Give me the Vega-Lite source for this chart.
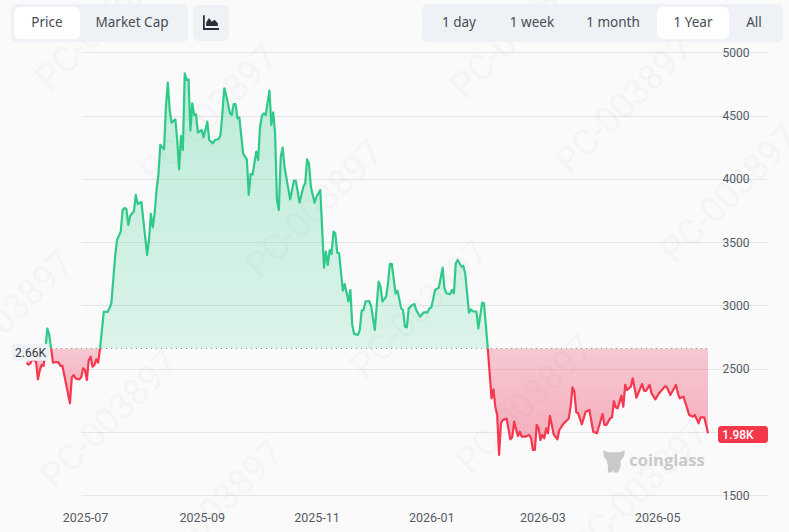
{
  "$schema": "https://vega.github.io/schema/vega-lite/v6.json",
  "width": 789,
  "height": 532,
  "autosize": "none",
  "padding": 0,
  "background": "#fafafa",
  "config": {"view": {"stroke": null}, "font": "Roboto"},
  "datasets": {
    "prices": [
      {"date":"2025-05-31","price":2548,"side":"down","run":1},{"date":"2025-06-01","price":2532,"side":"down","run":1},{"date":"2025-06-02","price":2543,"side":"down","run":1},{"date":"2025-06-03","price":2574,"side":"down","run":1},{"date":"2025-06-05","price":2556,"side":"down","run":1},{"date":"2025-06-06","price":2416,"side":"down","run":1},{"date":"2025-06-07","price":2490,"side":"down","run":1},{"date":"2025-06-08","price":2530,"side":"down","run":1},{"date":"2025-06-09","price":2522,"side":"down","run":1},{"date":"2025-06-10","price":2660,"side":"down","run":1},
      {"date":"2025-06-10","price":2660,"side":"up","run":2},{"date":"2025-06-11","price":2817,"side":"up","run":2},{"date":"2025-06-12","price":2770,"side":"up","run":2},{"date":"2025-06-13","price":2660,"side":"up","run":2},
      {"date":"2025-06-13","price":2660,"side":"down","run":3},{"date":"2025-06-14","price":2548,"side":"down","run":3},{"date":"2025-06-16","price":2553,"side":"down","run":3},{"date":"2025-06-17","price":2548,"side":"down","run":3},{"date":"2025-06-18","price":2522,"side":"down","run":3},{"date":"2025-06-19","price":2522,"side":"down","run":3},{"date":"2025-06-20","price":2450,"side":"down","run":3},{"date":"2025-06-23","price":2227,"side":"down","run":3},{"date":"2025-06-24","price":2432,"side":"down","run":3},{"date":"2025-06-25","price":2450,"side":"down","run":3},{"date":"2025-06-26","price":2424,"side":"down","run":3},{"date":"2025-06-28","price":2416,"side":"down","run":3},{"date":"2025-06-29","price":2432,"side":"down","run":3},{"date":"2025-06-30","price":2503,"side":"down","run":3},{"date":"2025-07-01","price":2490,"side":"down","run":3},{"date":"2025-07-02","price":2411,"side":"down","run":3},{"date":"2025-07-03","price":2569,"side":"down","run":3},{"date":"2025-07-04","price":2595,"side":"down","run":3},{"date":"2025-07-05","price":2516,"side":"down","run":3},{"date":"2025-07-06","price":2530,"side":"down","run":3},{"date":"2025-07-07","price":2574,"side":"down","run":3},{"date":"2025-07-08","price":2548,"side":"down","run":3},{"date":"2025-07-09","price":2660,"side":"down","run":3},
      {"date":"2025-07-09","price":2660,"side":"up","run":4},{"date":"2025-07-11","price":2951,"side":"up","run":4},{"date":"2025-07-13","price":2948,"side":"up","run":4},{"date":"2025-07-14","price":2977,"side":"up","run":4},{"date":"2025-07-15","price":3017,"side":"up","run":4},{"date":"2025-07-16","price":3200,"side":"up","run":4},{"date":"2025-07-17","price":3386,"side":"up","run":4},{"date":"2025-07-18","price":3517,"side":"up","run":4},{"date":"2025-07-20","price":3583,"side":"up","run":4},{"date":"2025-07-21","price":3754,"side":"up","run":4},{"date":"2025-07-22","price":3770,"side":"up","run":4},{"date":"2025-07-23","price":3760,"side":"up","run":4},{"date":"2025-07-24","price":3636,"side":"up","run":4},{"date":"2025-07-25","price":3707,"side":"up","run":4},{"date":"2025-07-27","price":3744,"side":"up","run":4},{"date":"2025-07-28","price":3873,"side":"up","run":4},{"date":"2025-07-29","price":3802,"side":"up","run":4},{"date":"2025-07-31","price":3817,"side":"up","run":4},
      {"date":"2025-08-01","price":3675,"side":"up","run":4},{"date":"2025-08-03","price":3399,"side":"up","run":4},{"date":"2025-08-04","price":3517,"side":"up","run":4},{"date":"2025-08-05","price":3723,"side":"up","run":4},{"date":"2025-08-06","price":3617,"side":"up","run":4},{"date":"2025-08-07","price":3728,"side":"up","run":4},{"date":"2025-08-08","price":3912,"side":"up","run":4},{"date":"2025-08-09","price":4031,"side":"up","run":4},{"date":"2025-08-10","price":4268,"side":"up","run":4},{"date":"2025-08-12","price":4233,"side":"up","run":4},{"date":"2025-08-13","price":4570,"side":"up","run":4},{"date":"2025-08-14","price":4760,"side":"up","run":4},{"date":"2025-08-15","price":4544,"side":"up","run":4},{"date":"2025-08-16","price":4444,"side":"up","run":4},{"date":"2025-08-18","price":4470,"side":"up","run":4},{"date":"2025-08-19","price":4307,"side":"up","run":4},{"date":"2025-08-20","price":4075,"side":"up","run":4},{"date":"2025-08-21","price":4339,"side":"up","run":4},{"date":"2025-08-22","price":4228,"side":"up","run":4},{"date":"2025-08-23","price":4834,"side":"up","run":4},{"date":"2025-08-24","price":4781,"side":"up","run":4},{"date":"2025-08-25","price":4786,"side":"up","run":4},{"date":"2025-08-26","price":4381,"side":"up","run":4},{"date":"2025-08-27","price":4597,"side":"up","run":4},{"date":"2025-08-28","price":4505,"side":"up","run":4},{"date":"2025-08-29","price":4510,"side":"up","run":4},{"date":"2025-08-30","price":4365,"side":"up","run":4},
      {"date":"2025-09-01","price":4386,"side":"up","run":4},{"date":"2025-09-02","price":4328,"side":"up","run":4},{"date":"2025-09-04","price":4452,"side":"up","run":4},{"date":"2025-09-05","price":4307,"side":"up","run":4},{"date":"2025-09-07","price":4281,"side":"up","run":4},{"date":"2025-09-08","price":4307,"side":"up","run":4},{"date":"2025-09-10","price":4315,"side":"up","run":4},{"date":"2025-09-11","price":4347,"side":"up","run":4},{"date":"2025-09-12","price":4518,"side":"up","run":4},{"date":"2025-09-13","price":4715,"side":"up","run":4},{"date":"2025-09-14","price":4663,"side":"up","run":4},{"date":"2025-09-16","price":4518,"side":"up","run":4},{"date":"2025-09-17","price":4505,"side":"up","run":4},{"date":"2025-09-18","price":4591,"side":"up","run":4},{"date":"2025-09-19","price":4591,"side":"up","run":4},{"date":"2025-09-20","price":4478,"side":"up","run":4},{"date":"2025-09-21","price":4486,"side":"up","run":4},{"date":"2025-09-23","price":4202,"side":"up","run":4},{"date":"2025-09-24","price":4176,"side":"up","run":4},{"date":"2025-09-25","price":4154,"side":"up","run":4},{"date":"2025-09-26","price":3873,"side":"up","run":4},{"date":"2025-09-27","price":4039,"side":"up","run":4},{"date":"2025-09-28","price":4033,"side":"up","run":4},{"date":"2025-09-30","price":4215,"side":"up","run":4},
      {"date":"2025-10-01","price":4149,"side":"up","run":4},{"date":"2025-10-02","price":4412,"side":"up","run":4},{"date":"2025-10-03","price":4499,"side":"up","run":4},{"date":"2025-10-04","price":4518,"side":"up","run":4},{"date":"2025-10-05","price":4505,"side":"up","run":4},{"date":"2025-10-07","price":4697,"side":"up","run":4},{"date":"2025-10-08","price":4426,"side":"up","run":4},{"date":"2025-10-09","price":4526,"side":"up","run":4},{"date":"2025-10-10","price":4360,"side":"up","run":4},{"date":"2025-10-11","price":3833,"side":"up","run":4},{"date":"2025-10-12","price":3754,"side":"up","run":4},{"date":"2025-10-13","price":4175,"side":"up","run":4},{"date":"2025-10-14","price":4247,"side":"up","run":4},{"date":"2025-10-15","price":4096,"side":"up","run":4},{"date":"2025-10-18","price":3838,"side":"up","run":4},{"date":"2025-10-20","price":3986,"side":"up","run":4},{"date":"2025-10-21","price":3986,"side":"up","run":4},{"date":"2025-10-23","price":3812,"side":"up","run":4},{"date":"2025-10-25","price":3938,"side":"up","run":4},{"date":"2025-10-26","price":3965,"side":"up","run":4},{"date":"2025-10-27","price":4154,"side":"up","run":4},{"date":"2025-10-28","price":4123,"side":"up","run":4},{"date":"2025-10-29","price":3938,"side":"up","run":4},{"date":"2025-10-31","price":3812,"side":"up","run":4},
      {"date":"2025-11-01","price":3859,"side":"up","run":4},{"date":"2025-11-03","price":3912,"side":"up","run":4},{"date":"2025-11-05","price":3299,"side":"up","run":4},{"date":"2025-11-06","price":3425,"side":"up","run":4},{"date":"2025-11-07","price":3320,"side":"up","run":4},{"date":"2025-11-08","price":3438,"side":"up","run":4},{"date":"2025-11-09","price":3406,"side":"up","run":4},{"date":"2025-11-10","price":3583,"side":"up","run":4},{"date":"2025-11-11","price":3570,"side":"up","run":4},{"date":"2025-11-12","price":3417,"side":"up","run":4},{"date":"2025-11-13","price":3412,"side":"up","run":4},{"date":"2025-11-15","price":3117,"side":"up","run":4},{"date":"2025-11-16","price":3170,"side":"up","run":4},{"date":"2025-11-18","price":3030,"side":"up","run":4},{"date":"2025-11-19","price":3122,"side":"up","run":4},{"date":"2025-11-20","price":2846,"side":"up","run":4},{"date":"2025-11-21","price":2775,"side":"up","run":4},{"date":"2025-11-23","price":2767,"side":"up","run":4},{"date":"2025-11-24","price":2806,"side":"up","run":4},{"date":"2025-11-25","price":2959,"side":"up","run":4},{"date":"2025-11-26","price":2964,"side":"up","run":4},{"date":"2025-11-27","price":3030,"side":"up","run":4},{"date":"2025-11-29","price":3035,"side":"up","run":4},{"date":"2025-11-30","price":2996,"side":"up","run":4},
      {"date":"2025-12-02","price":2806,"side":"up","run":4},{"date":"2025-12-04","price":3188,"side":"up","run":4},{"date":"2025-12-05","price":3148,"side":"up","run":4},{"date":"2025-12-06","price":3030,"side":"up","run":4},{"date":"2025-12-08","price":3070,"side":"up","run":4},{"date":"2025-12-09","price":3175,"side":"up","run":4},{"date":"2025-12-10","price":3328,"side":"up","run":4},{"date":"2025-12-11","price":3328,"side":"up","run":4},{"date":"2025-12-13","price":3096,"side":"up","run":4},{"date":"2025-12-14","price":3117,"side":"up","run":4},{"date":"2025-12-16","price":2977,"side":"up","run":4},{"date":"2025-12-17","price":2964,"side":"up","run":4},{"date":"2025-12-18","price":2832,"side":"up","run":4},{"date":"2025-12-19","price":2827,"side":"up","run":4},{"date":"2025-12-20","price":2977,"side":"up","run":4},{"date":"2025-12-22","price":3004,"side":"up","run":4},{"date":"2025-12-23","price":3012,"side":"up","run":4},{"date":"2025-12-24","price":2964,"side":"up","run":4},{"date":"2025-12-26","price":2911,"side":"up","run":4},{"date":"2025-12-28","price":2946,"side":"up","run":4},{"date":"2025-12-30","price":2946,"side":"up","run":4},{"date":"2025-12-31","price":2977,"side":"up","run":4},
      {"date":"2026-01-01","price":2983,"side":"up","run":4},{"date":"2026-01-03","price":3122,"side":"up","run":4},{"date":"2026-01-05","price":3141,"side":"up","run":4},{"date":"2026-01-07","price":3299,"side":"up","run":4},{"date":"2026-01-08","price":3135,"side":"up","run":4},{"date":"2026-01-09","price":3096,"side":"up","run":4},{"date":"2026-01-11","price":3088,"side":"up","run":4},{"date":"2026-01-12","price":3122,"side":"up","run":4},{"date":"2026-01-13","price":3096,"side":"up","run":4},{"date":"2026-01-14","price":3333,"side":"up","run":4},{"date":"2026-01-15","price":3359,"side":"up","run":4},{"date":"2026-01-17","price":3306,"side":"up","run":4},{"date":"2026-01-18","price":3312,"side":"up","run":4},{"date":"2026-01-19","price":3254,"side":"up","run":4},{"date":"2026-01-21","price":2943,"side":"up","run":4},{"date":"2026-01-22","price":2969,"side":"up","run":4},{"date":"2026-01-23","price":2954,"side":"up","run":4},{"date":"2026-01-25","price":2951,"side":"up","run":4},{"date":"2026-01-26","price":2819,"side":"up","run":4},{"date":"2026-01-28","price":3022,"side":"up","run":4},{"date":"2026-01-29","price":3017,"side":"up","run":4},{"date":"2026-01-31","price":2660,"side":"up","run":4},
      {"date":"2026-01-31","price":2660,"side":"down","run":5},{"date":"2026-02-01","price":2464,"side":"down","run":5},{"date":"2026-02-02","price":2266,"side":"down","run":5},{"date":"2026-02-03","price":2337,"side":"down","run":5},{"date":"2026-02-04","price":2200,"side":"down","run":5},{"date":"2026-02-05","price":2135,"side":"down","run":5},{"date":"2026-02-06","price":1819,"side":"down","run":5},{"date":"2026-02-07","price":2069,"side":"down","run":5},{"date":"2026-02-08","price":2095,"side":"down","run":5},{"date":"2026-02-10","price":2106,"side":"down","run":5},{"date":"2026-02-12","price":1942,"side":"down","run":5},{"date":"2026-02-13","price":1958,"side":"down","run":5},{"date":"2026-02-14","price":2082,"side":"down","run":5},{"date":"2026-02-16","price":1969,"side":"down","run":5},{"date":"2026-02-17","price":2003,"side":"down","run":5},{"date":"2026-02-18","price":1963,"side":"down","run":5},{"date":"2026-02-20","price":1963,"side":"down","run":5},{"date":"2026-02-22","price":1977,"side":"down","run":5},{"date":"2026-02-23","price":1950,"side":"down","run":5},{"date":"2026-02-24","price":1858,"side":"down","run":5},{"date":"2026-02-25","price":1858,"side":"down","run":5},{"date":"2026-02-26","price":2056,"side":"down","run":5},{"date":"2026-02-27","price":2029,"side":"down","run":5},{"date":"2026-02-28","price":1937,"side":"down","run":5},
      {"date":"2026-03-01","price":1977,"side":"down","run":5},{"date":"2026-03-02","price":1950,"side":"down","run":5},{"date":"2026-03-03","price":2029,"side":"down","run":5},{"date":"2026-03-04","price":1990,"side":"down","run":5},{"date":"2026-03-05","price":2127,"side":"down","run":5},{"date":"2026-03-06","price":2056,"side":"down","run":5},{"date":"2026-03-07","price":1982,"side":"down","run":5},{"date":"2026-03-09","price":1942,"side":"down","run":5},{"date":"2026-03-10","price":2016,"side":"down","run":5},{"date":"2026-03-12","price":2061,"side":"down","run":5},{"date":"2026-03-15","price":2106,"side":"down","run":5},{"date":"2026-03-16","price":2200,"side":"down","run":5},{"date":"2026-03-17","price":2353,"side":"down","run":5},{"date":"2026-03-18","price":2319,"side":"down","run":5},{"date":"2026-03-19","price":2156,"side":"down","run":5},{"date":"2026-03-20","price":2148,"side":"down","run":5},{"date":"2026-03-22","price":2061,"side":"down","run":5},{"date":"2026-03-24","price":2161,"side":"down","run":5},{"date":"2026-03-26","price":2174,"side":"down","run":5},{"date":"2026-03-28","price":2003,"side":"down","run":5},{"date":"2026-03-30","price":1990,"side":"down","run":5},
      {"date":"2026-04-02","price":2142,"side":"down","run":5},{"date":"2026-04-03","price":2056,"side":"down","run":5},{"date":"2026-04-04","price":2056,"side":"down","run":5},{"date":"2026-04-06","price":2108,"side":"down","run":5},{"date":"2026-04-07","price":2116,"side":"down","run":5},{"date":"2026-04-08","price":2245,"side":"down","run":5},{"date":"2026-04-09","price":2195,"side":"down","run":5},{"date":"2026-04-10","price":2187,"side":"down","run":5},{"date":"2026-04-12","price":2287,"side":"down","run":5},{"date":"2026-04-13","price":2200,"side":"down","run":5},{"date":"2026-04-14","price":2372,"side":"down","run":5},{"date":"2026-04-15","price":2332,"side":"down","run":5},{"date":"2026-04-17","price":2358,"side":"down","run":5},{"date":"2026-04-18","price":2424,"side":"down","run":5},{"date":"2026-04-20","price":2271,"side":"down","run":5},{"date":"2026-04-22","price":2345,"side":"down","run":5},{"date":"2026-04-23","price":2379,"side":"down","run":5},{"date":"2026-04-24","price":2327,"side":"down","run":5},{"date":"2026-04-25","price":2324,"side":"down","run":5},{"date":"2026-04-27","price":2372,"side":"down","run":5},{"date":"2026-04-28","price":2306,"side":"down","run":5},{"date":"2026-04-30","price":2258,"side":"down","run":5},
      {"date":"2026-05-02","price":2306,"side":"down","run":5},{"date":"2026-05-05","price":2358,"side":"down","run":5},{"date":"2026-05-06","price":2358,"side":"down","run":5},{"date":"2026-05-08","price":2293,"side":"down","run":5},{"date":"2026-05-11","price":2372,"side":"down","run":5},{"date":"2026-05-12","price":2306,"side":"down","run":5},{"date":"2026-05-13","price":2266,"side":"down","run":5},{"date":"2026-05-15","price":2279,"side":"down","run":5},{"date":"2026-05-18","price":2135,"side":"down","run":5},{"date":"2026-05-20","price":2121,"side":"down","run":5},{"date":"2026-05-21","price":2135,"side":"down","run":5},{"date":"2026-05-23","price":2069,"side":"down","run":5},{"date":"2026-05-24","price":2116,"side":"down","run":5},{"date":"2026-05-26","price":2116,"side":"down","run":5},{"date":"2026-05-27","price":2056,"side":"down","run":5},{"date":"2026-05-28","price":1990,"side":"down","run":5}
    ],
    "baseline": [{"start":"2025-05-28","end":"2026-05-28","price":2660}],
    "tabs": [
      {"name":"price panel","kind":"panel","from":0,"to":4,"top":0,"bottom":6},
      {"name":"price active","kind":"active","from":1,"to":2,"top":2,"bottom":4},
      {"name":"icon button","kind":"panel","from":5,"to":6,"top":1,"bottom":5},
      {"name":"range panel","kind":"panel","from":7,"to":14,"top":0,"bottom":6},
      {"name":"range active","kind":"active","from":11,"to":12,"top":2,"bottom":4}
    ],
    "tabLabels": [
      {"label":"Price","slot":1.5,"level":3},
      {"label":"Market Cap","slot":2.5,"level":3},
      {"label":"1 day","slot":8.5,"level":3},
      {"label":"1 week","slot":9.5,"level":3},
      {"label":"1 month","slot":10.5,"level":3},
      {"label":"1 Year","slot":11.5,"level":3},
      {"label":"All","slot":12.5,"level":3}
    ],
    "tabIcon": [{"slot":5.5,"level":3}],
    "tags": [
      {"label":"2.66K","price":2630,"from":0,"to":1,"mid":0.5,"kind":"base"},
      {"label":"1.98K","price":1980,"from":2,"to":3,"mid":2.4,"kind":"last"}
    ],
    "logo": [{"label":"coinglass","price":1770,"slot":5,"iconSlot":4}],
    "watermarks": [
      {"text":"PC-003897","col":1.05,"row":0.22},{"text":"PC-003897","col":2.1,"row":1.15},{"text":"PC-003897","col":0.05,"row":3.2},
      {"text":"PC-003897","col":3.15,"row":2.1},{"text":"PC-003897","col":1.1,"row":4.2},{"text":"PC-003897","col":4.2,"row":3.1},
      {"text":"PC-003897","col":2.15,"row":5.1},{"text":"PC-003897","col":5.2,"row":0.3},{"text":"PC-003897","col":6.25,"row":1.05},
      {"text":"PC-003897","col":7.3,"row":1.95},{"text":"PC-003897","col":5.25,"row":4.05},{"text":"PC-003897","col":6.4,"row":4.9}
    ]
  },
  "layer": [
    {
      "data": {"name": "watermarks"},
      "mark": {"type": "text", "text": "PC-003897", "angle": -45, "fontSize": 36, "font": "Roboto", "color": "#777777", "opacity": 0.035},
      "encoding": {
        "x": {"field": "col", "type": "quantitative", "axis": null, "scale": {"domain": [0, 8], "range": [0, 800]}},
        "y": {"field": "row", "type": "quantitative", "axis": null, "scale": {"domain": [0, 6], "range": [0, 600]}}
      }
    },
    {
      "encoding": {
        "x": {
          "field": "date",
          "type": "temporal",
          "scale": {
            "type": "utc",
            "domain": [{"year": 2025, "month": 5, "date": 28, "utc": true}, {"year": 2026, "month": 5, "date": 28, "utc": true}],
            "range": [21, 708]
          },
          "axis": {
            "title": null,
            "grid": false,
            "domain": false,
            "ticks": false,
            "format": "%Y-%m",
            "offset": -36,
            "labelPadding": 15,
            "labelFontSize": 12.5,
            "labelColor": "#555b66",
            "labelFont": "Roboto",
            "values": [
              {"year": 2025, "month": 7, "date": 1, "utc": true},
              {"year": 2025, "month": 9, "date": 1, "utc": true},
              {"year": 2025, "month": 11, "date": 1, "utc": true},
              {"year": 2026, "month": 1, "date": 1, "utc": true},
              {"year": 2026, "month": 3, "date": 1, "utc": true},
              {"year": 2026, "month": 5, "date": 1, "utc": true}
            ]
          }
        },
        "y": {
          "field": "price",
          "type": "quantitative",
          "scale": {"domain": [1500, 5000], "range": [495.3, 52.3], "zero": false, "nice": false},
          "axis": {
            "title": null,
            "orient": "right",
            "domain": false,
            "ticks": false,
            "grid": true,
            "gridColor": "#e6e6e6",
            "gridWidth": 1,
            "values": [1500, 2000, 2500, 3000, 3500, 4000, 4500, 5000],
            "format": "d",
            "offset": -81,
            "labelPadding": 14,
            "labelFontSize": 12,
            "labelColor": "#555b66",
            "labelFont": "Roboto"
          }
        }
      },
      "layer": [
        {
          "data": {"name": "prices"},
          "transform": [{"filter": "datum.side === 'up'"}],
          "mark": {
            "type": "area",
            "color": {
              "gradient": "linear", "x1": 0, "y1": 0, "x2": 0, "y2": 1,
              "stops": [
                {"offset": 0, "color": "rgba(46,201,137,0.30)"},
                {"offset": 1, "color": "rgba(46,201,137,0.15)"}
              ]
            }
          },
          "encoding": {"y2": {"datum": 2660}, "detail": {"field": "run"}}
        },
        {
          "data": {"name": "prices"},
          "transform": [{"filter": "datum.side === 'down'"}],
          "mark": {
            "type": "area",
            "color": {
              "gradient": "linear", "x1": 0, "y1": 0, "x2": 0, "y2": 1,
              "stops": [
                {"offset": 0, "color": "rgba(235,60,95,0.26)"},
                {"offset": 1, "color": "rgba(235,60,95,0.42)"}
              ]
            }
          },
          "encoding": {"y2": {"datum": 2660}, "detail": {"field": "run"}}
        },
        {
          "data": {"name": "baseline"},
          "mark": {"type": "rule", "color": "#8a8f96", "strokeWidth": 1, "strokeDash": [1, 4]},
          "encoding": {
            "x": {"field": "start", "type": "temporal"},
            "x2": {"field": "end"},
            "y": {"field": "price", "type": "quantitative"}
          }
        },
        {
          "data": {"name": "prices"},
          "mark": {"type": "line", "strokeWidth": 2.2, "strokeJoin": "round"},
          "encoding": {
            "color": {"field": "side", "type": "nominal", "legend": null, "scale": {"domain": ["up", "down"], "range": ["#2fc98a", "#f5384f"]}},
            "detail": {"field": "run"}
          }
        }
      ]
    },
    {
      "encoding": {
        "x": {
          "field": "from",
          "type": "quantitative",
          "axis": null,
          "scale": {
            "domain": [0, 1, 2, 3, 4, 5, 6, 7, 8, 9, 10, 11, 12, 13, 14],
            "range": [11, 14, 80, 184, 188, 193, 229, 422, 423, 495, 569, 657, 729, 779, 783]
          }
        },
        "y": {
          "field": "top",
          "type": "quantitative",
          "axis": null,
          "scale": {"domain": [0, 1, 2, 3, 4, 5, 6], "range": [4, 5, 7, 22.5, 39, 41, 42]}
        }
      },
      "layer": [
        {
          "data": {"name": "tabs"},
          "mark": {"type": "rect", "cornerRadius": 6},
          "encoding": {
            "x2": {"field": "to"},
            "y2": {"field": "bottom"},
            "color": {"field": "kind", "type": "nominal", "legend": null, "scale": {"domain": ["panel", "active"], "range": ["#eef1f5", "#ffffff"]}}
          }
        },
        {
          "data": {"name": "tabLabels"},
          "mark": {"type": "text", "fontSize": 13.5, "font": "Noto Sans", "color": "#484d55"},
          "encoding": {
            "x": {"field": "slot", "type": "quantitative"},
            "y": {"field": "level", "type": "quantitative"},
            "text": {"field": "label"}
          }
        },
        {
          "data": {"name": "tabIcon"},
          "mark": {
            "type": "point",
            "filled": true,
            "opacity": 1,
            "color": "#2b3038",
            "size": 256,
            "shape": "M-1,-0.9 L-0.78,-0.9 L-0.78,0.68 L1,0.68 L1,0.95 L-1,0.95 Z M-0.6,0.45 L-0.6,0 L-0.25,-0.55 L0.1,-0.1 L0.45,-0.35 L0.85,0.1 L0.85,0.45 Z"
          },
          "encoding": {
            "x": {"field": "slot", "type": "quantitative"},
            "y": {"field": "level", "type": "quantitative"}
          }
        }
      ]
    },
    {
      "encoding": {
        "x": {
          "field": "from",
          "type": "quantitative",
          "axis": null,
          "scale": {"domain": [0, 1, 2, 3, 4, 5], "range": [12, 49, 718, 768, 614, 667]}
        },
        "y": {
          "field": "price",
          "type": "quantitative",
          "axis": null,
          "scale": {"domain": [1500, 5000], "range": [495.3, 52.3], "zero": false, "nice": false}
        }
      },
      "layer": [
        {
          "data": {"name": "tags"},
          "mark": {"type": "rect", "cornerRadius": 3, "yOffset": -8.5, "y2Offset": 8.5},
          "encoding": {
            "x2": {"field": "to"},
            "y2": {"field": "price"},
            "color": {"field": "kind", "type": "nominal", "legend": null, "scale": {"domain": ["base", "last"], "range": ["#eef1f5", "#f4384a"]}}
          }
        },
        {
          "data": {"name": "tags"},
          "transform": [{"filter": "datum.kind === 'base'"}],
          "mark": {"type": "text", "fontSize": 12, "font": "Roboto", "color": "#33383f", "yOffset": 0.5},
          "encoding": {
            "x": {"field": "mid", "type": "quantitative"},
            "text": {"field": "label"}
          }
        },
        {
          "data": {"name": "tags"},
          "transform": [{"filter": "datum.kind === 'last'"}],
          "mark": {"type": "text", "fontSize": 12, "font": "Roboto", "fontWeight": 500, "color": "#ffffff", "yOffset": 0.5},
          "encoding": {
            "x": {"field": "mid", "type": "quantitative"},
            "text": {"field": "label"}
          }
        },
        {
          "data": {"name": "logo"},
          "mark": {"type": "text", "fontSize": 16.5, "font": "Open Sans", "fontWeight": "bold", "color": "#c9c9c9"},
          "encoding": {
            "x": {"field": "slot", "type": "quantitative"},
            "text": {"field": "label"}
          }
        },
        {
          "data": {"name": "logo"},
          "mark": {
            "type": "point",
            "filled": true,
            "opacity": 1,
            "color": "#c9c9c9",
            "size": 576,
            "shape": "M-0.9,-0.9 L-0.5,-0.75 L0.5,-0.75 L0.9,-0.9 L0.85,-0.4 L0.55,-0.05 L0.55,0.45 L0.35,0.95 L-0.05,0.95 L-0.05,0.7 L-0.2,0.95 L-0.5,0.95 L-0.5,0.45 L-0.6,-0.05 L-0.85,-0.4 Z"
          },
          "encoding": {
            "x": {"field": "iconSlot", "type": "quantitative"}
          }
        }
      ]
    }
  ],
  "resolve": {"scale": {"x": "independent", "y": "independent", "color": "independent"}}
}
